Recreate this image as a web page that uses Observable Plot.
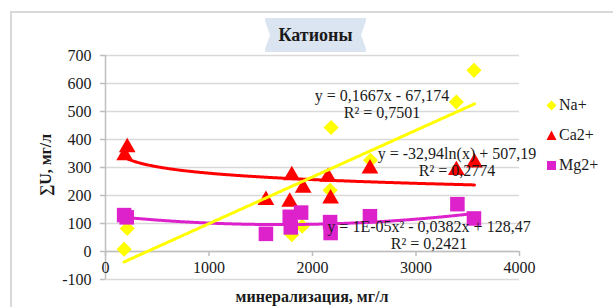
<!DOCTYPE html>
<html><head><meta charset="utf-8">
<script src="https://cdn.jsdelivr.net/npm/d3@7"></script>
<script src="https://cdn.jsdelivr.net/npm/@observablehq/plot@0.6"></script>
<style>
body{margin:0;background:#fff;}
#wrap{position:relative;width:613px;height:307px;overflow:hidden;background:#fff;font-family:'Liberation Serif',serif;color:#1a1a1a;}
#frame{position:absolute;left:10px;top:11px;width:700px;height:400px;border:2px solid #d9d9d9;box-sizing:border-box;}
#chart{position:absolute;left:0;top:0;}
#title{position:absolute;left:265px;top:18px;width:101px;height:34px;background:#dbe5f1;font-weight:bold;font-size:18px;line-height:34px;text-align:center;}
#title:before{content:"";position:absolute;left:0;top:3px;border-left:5px solid #fff;border-top:14px solid transparent;border-bottom:14px solid transparent;}
#title:after{content:"";position:absolute;right:0;top:3px;border-right:5px solid #fff;border-top:14px solid transparent;border-bottom:14px solid transparent;}
.eq{position:absolute;font-size:16px;line-height:17px;text-align:center;white-space:nowrap;transform:translateX(-50%);}
#ylab{position:absolute;left:46px;top:165px;font-weight:bold;font-size:16px;white-space:nowrap;transform:translate(-50%,-50%) rotate(-90deg);}
#xlab{position:absolute;left:312px;top:297px;font-weight:bold;font-size:16px;white-space:nowrap;transform:translate(-50%,-50%);}
#legend{position:absolute;left:546px;top:90px;font-size:16px;}
.li{height:30px;display:flex;align-items:center;}
.li svg{margin-right:2px;}
</style></head>
<body>
<div id="wrap">
  <div id="frame"></div>
  <div id="chart"></div>
  <div id="title">Катионы</div>
  <div id="ylab">∑U, мг/л</div>
  <div id="xlab">минерализация, мг/л</div>
  <div id="eqs"></div>
  <div id="legend"></div>
</div>
<script>
// ---- data ----
const xTicks = [0, 1000, 2000, 3000, 4000];
const yTicks = [-100, 0, 100, 200, 300, 400, 500, 600, 700];
const seriesNames = ["Na+", "Ca2+", "Mg2+"];
const seriesColors = ["#ffff00", "#ff0000", "#dd22cc"];

const naX = [180, 210, 1800, 1900, 2170, 2180, 2560, 3390, 3560];
const naY = [8, 82, 60, 90, 219, 443, 326, 534, 647];
const caX = [185, 210, 1550, 1780, 1800, 1910, 2150, 2175, 2555, 3390, 3565];
const caY = [343, 372, 183, 177, 272, 227, 266, 189, 296, 290, 317];
const mgX = [180, 205, 1550, 1780, 1790, 1890, 2170, 2175, 2555, 3400, 3560];
const mgY = [130, 122, 63, 124, 86, 139, 105, 66, 126, 169, 118];

// trendline coefficients (as in the equations shown)
const naFit = [0.1667, -67.174];            // linear
const caFit = [-32.94, 507.19];             // logarithmic
const mgFit = [1.13e-5, -0.0382, 128.47];   // polynomial (2nd order)
const fitRange = [178, 3565];

const naEq = ["y = 0,1667x - 67,174", "R² = 0,7501"];
const caEq = ["y = -32,94ln(x) + 507,19", "R² = 0,2774"];
const mgEq = ["y = 1E-05x² - 0,0382x + 128,47", "R² = 0,2421"];

// ---- build tables ----
const pts = (xs, ys) => xs.map((x, i) => ({x, y: ys[i]}));
const na = pts(naX, naY), ca = pts(caX, caY), mg = pts(mgX, mgY);
const xs = d3.range(fitRange[0], fitRange[1], 10).concat([fitRange[1]]);
const naLine = xs.map(x => ({x, y: naFit[0] * x + naFit[1]}));
const caLine = xs.map(x => ({x, y: caFit[0] * Math.log(x) + caFit[1]}));
const mgLine = xs.map(x => ({x, y: mgFit[0] * x * x + mgFit[1] * x + mgFit[2]}));

const chart = Plot.plot({
  width: 613, height: 307,
  marginLeft: 105, marginRight: 94, marginTop: 55, marginBottom: 28,
  style: {fontFamily: "'Liberation Serif', serif", fontSize: "16px", color: "#1a1a1a", background: "transparent", overflow: "visible"},
  x: {domain: [0, 4000], axis: null},
  y: {domain: [-100, 700]},
  marks: [
    Plot.gridY(yTicks, {stroke: "#d9d9d9", strokeOpacity: 1, strokeWidth: 1.5}),
    Plot.ruleY([0], {stroke: "#bfbfbf", strokeWidth: 1.5}),
    Plot.ruleX([0], {stroke: "#bfbfbf", strokeWidth: 1.5}),
    Plot.ruleX(xTicks, {x: d => d, y1: 0, y2: -18, stroke: "#bfbfbf", strokeWidth: 1.5}),
    Plot.axisY(yTicks, {tickSize: 5, tickPadding: 9, stroke: "#bfbfbf", strokeWidth: 1.5, label: null, tickFormat: d => String(d), fontSize: 16, fontFamily: "'Liberation Serif', serif"}),
    Plot.text(xTicks, {x: d => d, frameAnchor: "bottom", dy: -7, text: d => String(d), fontSize: 16, fontFamily: "'Liberation Serif', serif"}),
    Plot.dot(na, {x: "x", y: "y", symbol: "diamond2", r: 6.8, fill: seriesColors[0], stroke: "none"}),
    Plot.dot(ca, {x: "x", y: "y", symbol: "triangle", r: 6.2, fill: seriesColors[1], stroke: "none"}),
    Plot.dot(mg, {x: "x", y: "y", symbol: "square", r: 8.2, fill: seriesColors[2], stroke: "none"}),
    Plot.line(mgLine, {x: "x", y: "y", stroke: seriesColors[2], strokeWidth: 3}),
    Plot.line(caLine, {x: "x", y: "y", stroke: seriesColors[1], strokeWidth: 3}),
    Plot.line(naLine, {x: "x", y: "y", stroke: seriesColors[0], strokeWidth: 3})
  ]
});
document.getElementById("chart").appendChild(chart);

// equation labels
const eqs = document.getElementById("eqs");
[[naEq, 382, 87], [caEq, 457, 145], [mgEq, 429, 218]].forEach(([lines, cx, top]) => {
  const d = document.createElement("div");
  d.className = "eq";
  d.style.left = cx + "px";
  d.style.top = top + "px";
  d.innerHTML = lines.join("<br>");
  eqs.appendChild(d);
});

// legend
const shapes = [
  c => `<svg width="11" height="11"><polygon points="5.5,0.5 10.5,5.5 5.5,10.5 0.5,5.5" fill="${c}"/></svg>`,
  c => `<svg width="11" height="11"><polygon points="5.5,0.5 10.5,10 0.5,10" fill="${c}"/></svg>`,
  c => `<svg width="11" height="11"><rect x="1" y="1" width="9" height="9" fill="${c}"/></svg>`
];
const leg = document.getElementById("legend");
seriesNames.forEach((n, i) => {
  const d = document.createElement("div");
  d.className = "li";
  d.innerHTML = shapes[i](seriesColors[i]) + `<span>${n}</span>`;
  leg.appendChild(d);
});
</script>
</body></html>
